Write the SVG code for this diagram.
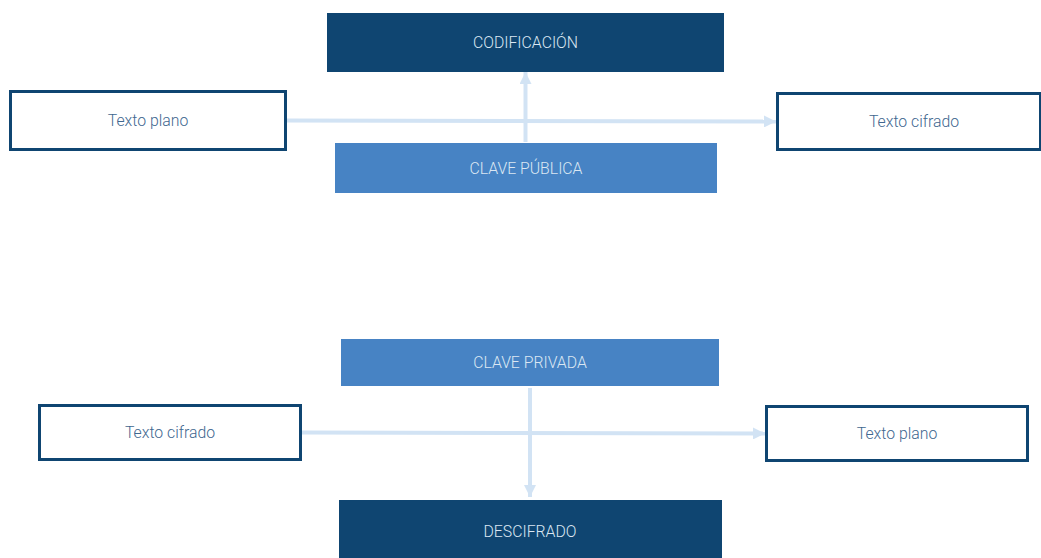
<svg xmlns="http://www.w3.org/2000/svg" width="1041" height="558" viewBox="0 0 1041 558">
<defs>
<style>
.dark{fill:#0f4571;}
.mid{fill:#4783c4;}
.box{fill:#fff;stroke:#0f4571;stroke-width:3;}
.lt{font-family:Roboto,"Liberation Sans",sans-serif;font-weight:300;font-size:15.8px;fill:#dbe7f3;text-anchor:middle;dominant-baseline:central;}
.dt{font-family:Roboto,"Liberation Sans",sans-serif;font-weight:300;font-size:15.8px;fill:#41678f;text-anchor:middle;dominant-baseline:central;}
.con{stroke:#d2e3f4;stroke-width:4;fill:none;}
</style>
<marker id="ah" viewBox="0 0 10 10" refX="10" refY="5" markerWidth="3" markerHeight="3" orient="auto" markerUnits="strokeWidth">
<path d="M0,0 L10,5 L0,10 Z" fill="#d2e3f4"/>
</marker>
</defs>
<g id="connectors">
<line class="con" x1="287" y1="120.5" x2="776" y2="121.5" marker-end="url(#ah)"/>
<line class="con" x1="525.5" y1="142" x2="525.5" y2="72" marker-end="url(#ah)"/>
<line class="con" x1="302" y1="432.5" x2="765" y2="433.5" marker-end="url(#ah)"/>
<line class="con" x1="530" y1="388" x2="530" y2="497" marker-end="url(#ah)"/>
</g>
<g id="codificacion"><rect class="dark" x="327" y="13" width="397" height="59"/><text class="lt" x="525.5" y="42">CODIFICACIÓN</text></g>
<g id="texto-plano-1"><rect class="box" x="10.5" y="91.5" width="275" height="58"/><text class="dt" x="148" y="120">Texto plano</text></g>
<g id="texto-cifrado-1"><rect class="box" x="777.5" y="93.5" width="263" height="56"/><text class="dt" x="914" y="121">Texto cifrado</text></g>
<g id="clave-publica"><rect class="mid" x="335" y="143" width="382" height="50"/><text class="lt" x="526" y="168">CLAVE PÚBLICA</text></g>
<g id="clave-privada"><rect class="mid" x="341" y="339" width="378" height="47"/><text class="lt" x="530" y="362.5">CLAVE PRIVADA</text></g>
<g id="texto-cifrado-2"><rect class="box" x="39.5" y="405.5" width="261" height="54"/><text class="dt" x="170" y="432">Texto cifrado</text></g>
<g id="texto-plano-2"><rect class="box" x="766.5" y="406.5" width="261" height="54"/><text class="dt" x="897" y="433">Texto plano</text></g>
<g id="descifrado"><rect class="dark" x="339" y="500" width="383" height="58"/><text class="lt" x="530" y="531">DESCIFRADO</text></g>
</svg>
